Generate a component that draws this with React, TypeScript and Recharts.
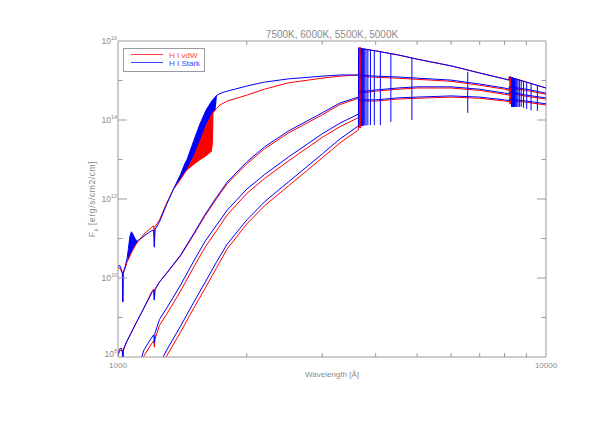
import React from 'react';
import { Area, ComposedChart, Line, ReferenceLine, XAxis, YAxis } from 'recharts';

type Pt = [number, number];
type Band = [number, number, number];

// axis ticks: wavelength in Å, flux as log10
const wavelengthTicks = [1000, 2000, 3000, 4000, 5000, 6000, 7000, 8000, 9000, 10000];
const wavelengthLabels = [1000, 10000];
const fluxTicks = [8, 9, 10, 11, 12, 13, 14, 15, 16];
const temperatures = ['7500K', '6000K', '5500K', '5000K'];
const legendNames = ['H I vdW', 'H I Stark'];

// H I vdW (red) spectra, [wavelength, log10 F]
const vdw7500: Pt[] = [
  [1000, 10.22], [1008, 10.26], [1016, 10.2], [1024, 10.12], [1026, 9.4], [1029, 10.12], [1040, 10.25],
  [1050, 10.4], [1075, 10.64], [1100, 10.84], [1150, 11.11], [1200, 11.29], [1212, 11.31], [1216, 10.8],
  [1220, 11.3], [1250, 11.47], [1300, 11.9], [1345, 12.23], [1400, 12.5], [1450, 12.75], [1500, 13.05],
  [1554, 13.45], [1606, 13.85], [1656, 14.15], [1700, 14.3], [1731, 14.38], [1800, 14.48], [2000, 14.63],
  [2200, 14.78], [2500, 14.94], [3000, 15.06], [3300, 15.11], [3646, 15.14], [3648, 15.82], [4000, 15.75],
  [4500, 15.65], [5000, 15.54], [6000, 15.37], [7000, 15.19], [8000, 15.04], [8200, 15.01], [8206, 15.09],
  [9000, 14.96], [10000, 14.81],
];
const vdw6000: Pt[] = [
  [1000, 8.02], [1008, 8.15], [1018, 8.18], [1024, 8.12], [1026, 7.5], [1029, 8.16], [1050, 8.4],
  [1100, 8.84], [1150, 9.25], [1200, 9.66], [1212, 9.72], [1216, 9.45], [1220, 9.72], [1250, 9.9],
  [1300, 10.12], [1400, 10.56], [1500, 11.08], [1600, 11.59], [1700, 12.01], [1800, 12.39], [2000, 12.89],
  [2200, 13.27], [2500, 13.67], [3000, 14.13], [3300, 14.39], [3646, 14.55], [3648, 15.11], [4000, 15.08],
  [4500, 15.06], [5000, 15.03], [6000, 14.98], [7000, 14.88], [8000, 14.78], [8200, 14.75], [8206, 14.81],
  [9000, 14.75], [10000, 14.65],
];
const vdw5500: Pt[] = [
  [1140, 7.85], [1150, 8.03], [1200, 8.35], [1212, 8.41], [1216, 8.25], [1220, 8.45], [1250, 8.8],
  [1300, 9.09], [1400, 9.67], [1500, 10.26], [1600, 10.79], [1700, 11.2], [1800, 11.6], [2000, 12.14],
  [2200, 12.52], [2500, 12.96], [3000, 13.56], [3300, 13.83], [3646, 14.06], [3648, 14.68], [4000, 14.73],
  [4500, 14.78], [5000, 14.81], [6000, 14.81], [7000, 14.75], [8000, 14.65], [8200, 14.63], [8206, 14.68],
  [9000, 14.6], [10000, 14.53],
];
const vdw5000: Pt[] = [
  [1285, 7.9], [1300, 8.03], [1400, 8.63], [1500, 9.22], [1600, 9.75], [1700, 10.26], [1800, 10.74],
  [2000, 11.37], [2200, 11.83], [2500, 12.33], [3000, 13.04], [3300, 13.42], [3646, 13.75], [3648, 14.48],
  [4000, 14.48], [4500, 14.53], [5000, 14.55], [6000, 14.58], [7000, 14.55], [8000, 14.48], [8200, 14.46],
  [8206, 14.5], [9000, 14.45], [10000, 14.38],
];

// H I Stark (blue) spectra
const stark7500: Pt[] = [
  [1000, 10.25], [1005, 10.32], [1012, 10.3], [1018, 10.22], [1024, 10.12], [1026, 9.39], [1028, 10.12],
  [1040, 10.3], [1050, 10.5], [1058, 10.75], [1066, 11.05], [1075, 11.17], [1082, 11.12], [1090, 11.05],
  [1100, 10.97], [1110, 10.94], [1130, 11.0], [1150, 11.06], [1180, 11.15], [1200, 11.2], [1212, 11.21],
  [1216, 10.78], [1220, 11.22], [1250, 11.42], [1300, 11.87], [1345, 12.23], [1400, 12.62], [1433, 12.9],
  [1450, 13.0], [1500, 13.45], [1554, 13.9], [1606, 14.25], [1656, 14.48], [1704, 14.63], [1750, 14.69],
  [1800, 14.73], [2000, 14.86], [2200, 14.96], [2500, 15.04], [3000, 15.11], [3300, 15.14], [3646, 15.14],
  [3648, 15.82], [4000, 15.75], [4500, 15.65], [5000, 15.54], [6000, 15.37], [7000, 15.19], [8000, 15.04],
  [8200, 15.01], [8206, 15.09], [9000, 14.96], [10000, 14.81],
];
const stark6000: Pt[] = [
  [1000, 8.05], [1008, 8.2], [1018, 8.22], [1024, 8.15], [1026, 7.5], [1029, 8.2], [1050, 8.41],
  [1100, 8.84], [1150, 9.24], [1200, 9.63], [1212, 9.68], [1216, 9.44], [1220, 9.7], [1250, 9.9],
  [1300, 10.13], [1400, 10.58], [1500, 11.11], [1600, 11.62], [1700, 12.05], [1800, 12.43], [2000, 12.94],
  [2200, 13.32], [2500, 13.72], [3000, 14.18], [3300, 14.43], [3646, 14.58], [3648, 15.14], [4000, 15.11],
  [4500, 15.09], [5000, 15.06], [6000, 15.01], [7000, 14.91], [8000, 14.81], [8200, 14.78], [8206, 14.84],
  [9000, 14.78], [10000, 14.68],
];
const stark5500: Pt[] = [
  [1125, 7.85], [1150, 8.18], [1200, 8.5], [1212, 8.56], [1216, 8.35], [1220, 8.6], [1250, 8.95],
  [1300, 9.24], [1400, 9.82], [1500, 10.41], [1600, 10.94], [1700, 11.34], [1800, 11.72], [2000, 12.25],
  [2200, 12.62], [2500, 13.06], [3000, 13.65], [3300, 13.92], [3646, 14.15], [3648, 14.71], [4000, 14.76],
  [4500, 14.81], [5000, 14.84], [6000, 14.84], [7000, 14.78], [8000, 14.68], [8200, 14.66], [8206, 14.71],
  [9000, 14.63], [10000, 14.56],
];
const stark5000: Pt[] = [
  [1262, 7.9], [1274, 8.0], [1300, 8.18], [1400, 8.78], [1500, 9.37], [1600, 9.9], [1700, 10.41],
  [1800, 10.86], [2000, 11.47], [2200, 11.93], [2500, 12.43], [3000, 13.14], [3300, 13.52], [3646, 13.85],
  [3648, 14.51], [4000, 14.51], [4500, 14.56], [5000, 14.58], [6000, 14.61], [7000, 14.58], [8000, 14.51],
  [8200, 14.49], [8206, 14.53], [9000, 14.48], [10000, 14.41],
];

// dense line forests, [wavelength, low, high]
const vdw7500Forest: Band[] = [
  [1440, 12.7, 12.7], [1470, 12.78, 12.87], [1500, 12.86, 13.05], [1554, 12.98, 13.45],
  [1606, 13.08, 13.85], [1656, 13.2, 14.15], [1666, 13.4, 14.19], [1672, 14.2, 14.2],
];
const stark7500Forest: Band[] = [
  [1345, 12.23, 12.23], [1400, 12.5, 12.62], [1433, 12.66, 12.9], [1450, 12.75, 13.0], [1500, 13.05, 13.45],
  [1554, 13.45, 13.9], [1606, 13.85, 14.25], [1656, 14.15, 14.48], [1690, 14.25, 14.6], [1704, 14.63, 14.63],
];
const stark7500Hump: Band[] = [
  [1052, 10.42, 10.55], [1058, 10.48, 10.75], [1066, 10.56, 11.05], [1075, 10.64, 11.17],
  [1082, 10.7, 11.12], [1090, 10.77, 11.05], [1100, 10.84, 10.97], [1110, 10.9, 10.94],
];
const vdwBalmerLimit: Band[] = [[3650, 13.8, 15.84], [3700, 13.8, 15.84]];
const vdwPaschenLimit: Band[] = [[8206, 14.4, 15.1], [8300, 14.4, 15.1]];

// hydrogen lines drawn across the four spectra, [wavelength, top, bottom]
const balmerLines: Band[] = [
  [3704, 15.81, 13.85], [3712, 15.81, 13.85], [3722, 15.8, 13.85], [3734, 15.8, 13.85],
  [3750, 15.8, 13.86], [3771, 15.79, 13.86], [3798, 15.79, 13.86], [3835, 15.78, 13.87],
  [3889, 15.77, 13.87], [3970, 15.76, 13.87], [4102, 15.74, 13.87], [4340, 15.69, 13.95],
  [4861, 15.57, 14.0], [6563, 15.22, 14.18],
];
const paschenLines: Band[] = [
  [8310, 15.08, 14.33], [8322, 15.08, 14.33], [8334, 15.07, 14.33], [8345, 15.07, 14.33],
  [8359, 15.07, 14.33], [8374, 15.06, 14.33], [8392, 15.06, 14.33], [8413, 15.06, 14.33],
  [8438, 15.05, 14.33], [8467, 15.05, 14.33], [8502, 15.04, 14.33], [8545, 15.03, 14.33],
  [8598, 15.02, 14.33], [8665, 15.01, 14.33], [8750, 15.0, 14.33], [8863, 14.98, 14.31],
  [9015, 14.95, 14.28], [9229, 14.91, 14.24], [9546, 14.86, 14.23],
];

const RED = '#ff0000';
const BLUE = '#0000ff';
const AXIS = '#9a9a9a';
const TEXT = '#8a8a8a';
const PLOT_W = 428;
const PLOT_H = 316;

const toLine = (pts: Pt[]) => pts.map(([wl, f]) => ({ wl, f }));
const toBand = (pts: Band[]) => pts.map(([wl, lo, hi]) => ({ wl, r: [lo, hi] }));

const XTick = ({ x, y, payload }: any) => {
  const v = payload.value;
  const edge = v === 1000 || v === 10000;
  return (
    <g>
      {!edge && <line x1={x} x2={x} y1={y} y2={y - 4} stroke={AXIS} />}
      {!edge && <line x1={x} x2={x} y1={y - PLOT_H} y2={y - PLOT_H + 4} stroke={AXIS} />}
      {wavelengthLabels.includes(v) && (
        <text x={x} y={y + 11} textAnchor="middle" fontSize={8} fill={TEXT}>{v}</text>
      )}
    </g>
  );
};

const YTick = ({ x, y, payload }: any) => {
  const v = payload.value;
  const major = v % 2 === 0;
  const len = major ? 9 : 4.5;
  const edge = v === 8 || v === 16;
  return (
    <g>
      {!edge && <line x1={x} x2={x + len} y1={y} y2={y} stroke={AXIS} />}
      {!edge && <line x1={x + PLOT_W} x2={x + PLOT_W - len} y1={y} y2={y} stroke={AXIS} />}
      {major && (
        <text x={x - 1} y={y + (v === 8 ? 0 : 3)} textAnchor="end" fontSize={8.5} fill={TEXT}>
          10<tspan dy={-4} fontSize={5.5}>{v}</tspan>
        </text>
      )}
    </g>
  );
};

const redSeries = [vdw7500, vdw6000, vdw5500, vdw5000];
const blueSeries = [stark7500, stark6000, stark5500, stark5000];
const legendColors = ['#ff4040', '#4040ff'];

export default function App() {
  return (
    <div style={{ position: 'relative', width: 582, height: 407, fontFamily: '"Liberation Sans", Arial, sans-serif' }}>
      <ComposedChart width={582} height={407} margin={{ top: 33, right: 44, bottom: 28, left: 0 }}>
        <XAxis
          dataKey="wl"
          type="number"
          scale="log"
          domain={[1000, 10000]}
          ticks={wavelengthTicks}
          interval={0}
          allowDataOverflow
          height={30}
          tickSize={0}
          tickMargin={0}
          tickLine={false}
          axisLine={{ stroke: AXIS }}
          tick={<XTick />}
        />
        <YAxis
          type="number"
          domain={[8, 16]}
          ticks={fluxTicks}
          interval={0}
          allowDataOverflow
          width={110}
          tickSize={0}
          tickMargin={0}
          tickLine={false}
          axisLine={{ stroke: AXIS }}
          tick={<YTick />}
        />
        <ReferenceLine y={16} stroke={AXIS} />
        <ReferenceLine x={10000} stroke={AXIS} />

        {redSeries.map((s, i) => (
          <Line key={'r' + i} data={toLine(s)} dataKey="f" type="linear" stroke={RED} strokeWidth={1}
            dot={false} isAnimationActive={false} />
        ))}
        {[vdw7500Forest, vdwBalmerLimit, vdwPaschenLimit].map((b, i) => (
          <Area key={'ra' + i} data={toBand(b)} dataKey="r" type="linear" stroke="none" fill={RED}
            fillOpacity={1} isAnimationActive={false} />
        ))}
        {blueSeries.map((s, i) => (
          <Line key={'b' + i} data={toLine(s)} dataKey="f" type="linear" stroke={BLUE} strokeWidth={1}
            dot={false} isAnimationActive={false} />
        ))}
        {[stark7500Forest, stark7500Hump].map((b, i) => (
          <Area key={'ba' + i} data={toBand(b)} dataKey="r" type="linear" stroke="none" fill={BLUE}
            fillOpacity={1} isAnimationActive={false} />
        ))}
        {[...balmerLines, ...paschenLines].map(([wl, top, bottom], i) => (
          <Line key={'h' + i} data={[{ wl, f: top }, { wl, f: bottom }]} dataKey="f" type="linear"
            stroke={BLUE} strokeWidth={1} dot={false} isAnimationActive={false} />
        ))}
      </ComposedChart>

      <div style={{ position: 'absolute', left: 324, top: 26, transform: 'translate(-50%, -50%)',
        fontSize: 10, color: TEXT, whiteSpace: 'nowrap' }}>
        {temperatures.join(', ')}
      </div>
      <div style={{ position: 'absolute', left: 324, top: 366, transform: 'translate(-50%, -50%)',
        fontSize: 8, color: TEXT, whiteSpace: 'nowrap' }}>
        Wavelength [Å]
      </div>
      <div style={{ position: 'absolute', left: 85, top: 191, transform: 'translate(-50%, -50%) rotate(-90deg)',
        fontSize: 8.5, letterSpacing: 0.6, color: TEXT, whiteSpace: 'nowrap' }}>
        F<sub style={{ fontSize: 6 }}>λ</sub> [erg/s/cm2/cm]
      </div>

      {/* legend box */}
      <svg width={84} height={26} style={{ position: 'absolute', left: 114, top: 39 }}>
        <rect x={1.5} y={1.5} width={81} height={23} fill="none" stroke={AXIS} />
        {legendNames.map((name, i) => (
          <g key={name}>
            <line x1={9} x2={41} y1={7.5 + i * 8} y2={7.5 + i * 8} stroke={legendColors[i]} />
            <text x={47} y={10.5 + i * 8} fontSize={8} fill={legendColors[i]}>{name}</text>
          </g>
        ))}
      </svg>
    </div>
  );
}
